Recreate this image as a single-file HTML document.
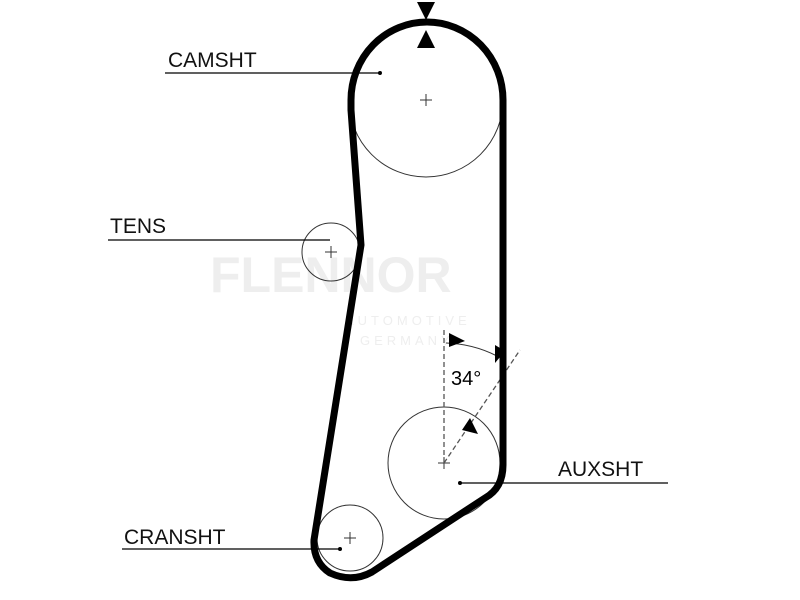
<!DOCTYPE html><html><head><style>body{margin:0;background:#fff}svg{display:block}text{font-family:"Liberation Sans",sans-serif}</style></head><body>
<svg width="800" height="600" viewBox="0 0 800 600">
<text x="210" y="292" font-size="50" font-weight="bold" fill="#eee">FLENNOR</text>
<text x="345" y="325" font-size="13" fill="#eee" letter-spacing="4">AUTOMOTIVE</text>
<text x="360" y="345" font-size="13" fill="#eee" letter-spacing="4">GERMANY</text>
<g fill="none" stroke="#333" stroke-width="1">
<circle cx="426" cy="100" r="77"/>
<circle cx="331" cy="252" r="29"/>
<circle cx="444" cy="463" r="56"/>
<circle cx="350" cy="538" r="33"/>
<path d="M420,100h12M426,94v12M325,252h12M331,246v12M438,463h12M444,457v12M344,538h12M350,532v12"/>
<path d="M446,343 A120,120 0 0 1 497,356"/>
</g>
<g stroke="#555" stroke-width="1.3" stroke-dasharray="5,3" fill="none">
<path d="M444,463V330M444,463L520,350"/>
</g>
<path d="M351,100 A76,78 0 0 1 503,100 L503,465 Q503,488 485,498 L372,572 Q352,583 330,573 Q313,562 314,540 L361,245 L351,110 Z" fill="none" stroke="#000" stroke-width="7" stroke-linejoin="round"/>
<path d="M417,2h18l-9,18zM417,48h18l-9,-18z" fill="#000"/>
<path d="M449,333l16,8l-16,6z M495,345l10,6l-10,12z M470,418l8,16l-16,-4z" fill="#000"/>
<text x="451" y="385" font-size="20">34°</text>
<g stroke="#000" stroke-width="1.2"><path d="M165,73H380M108,240H330M122,549H340M460,483H668"/></g>
<g fill="#000"><circle cx="380" cy="73" r="2"/><circle cx="340" cy="549" r="2"/><circle cx="460" cy="483" r="2"/></g>
<g font-size="21" fill="#111">
<text x="168" y="67">CAMSHT</text>
<text x="110" y="233">TENS</text>
<text x="124" y="544">CRANSHT</text>
<text x="558" y="476">AUXSHT</text>
</g>
</svg></body></html>
